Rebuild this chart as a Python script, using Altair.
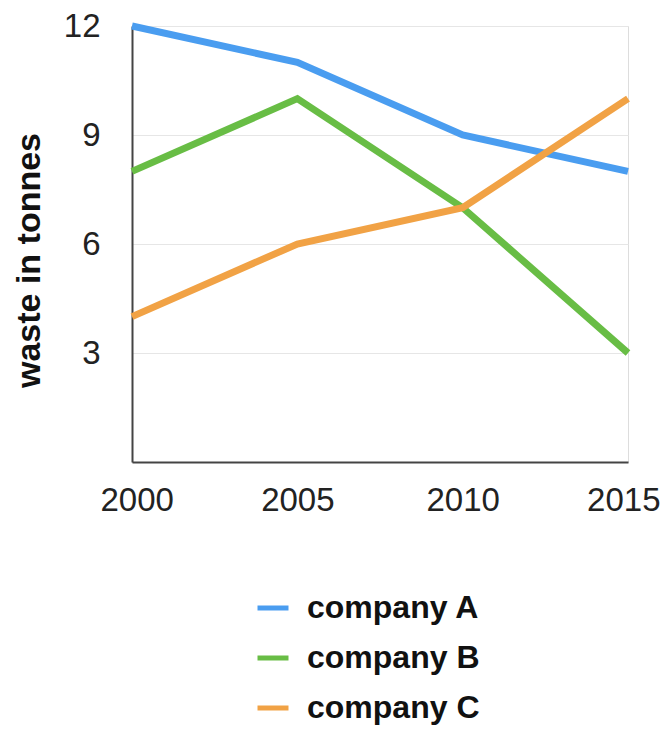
import altair as alt
import pandas as pd

years = [2000, 2005, 2010, 2015]
companies = ["company A", "company B", "company C"]
company_a = [12, 11, 9, 8]
company_b = [8, 10, 7, 3]
company_c = [4, 6, 7, 10]
colors = ["#4a9df0", "#68bd45", "#f1a245"]
y_ticks = [3, 6, 9, 12]

rows = []
for name, vals in zip(companies, [company_a, company_b, company_c]):
    for yr, v in zip(years, vals):
        rows.append({"year": yr, "waste": v, "company": name})
df = pd.DataFrame(rows)

FONT = "Liberation Sans"

chart = (
    alt.Chart(df)
    .mark_line(strokeWidth=7)
    .encode(
        x=alt.X(
            "year:Q",
            scale=alt.Scale(domain=[2000, 2015], nice=False, zero=False),
            axis=alt.Axis(
                values=years,
                format="d",
                title=None,
                grid=False,
                ticks=False,
                labelPadding=22,
                labelFontSize=33,
                labelFont=FONT,
                labelColor="#222222",
                domainColor="#444444",
                domainWidth=2,
                labelFlush=True,
                labelFlushOffset=32,
            ),
        ),
        y=alt.Y(
            "waste:Q",
            scale=alt.Scale(domain=[0, 12], nice=False),
            axis=alt.Axis(
                values=y_ticks,
                title="waste in tonnes",
                titleFont=FONT,
                titleFontSize=34,
                titleFontWeight="bold",
                titleColor="#111111",
                titleX=-103,
                titleY=234,
                titleAngle=-90,
                titleAlign="center",
                titleBaseline="middle",
                grid=True,
                gridColor="#e6e6e6",
                gridWidth=1,
                ticks=False,
                labelPadding=32,
                labelFontSize=33,
                labelFont=FONT,
                labelColor="#222222",
                domainColor="#444444",
                domainWidth=2,
            ),
        ),
        color=alt.Color(
            "company:N",
            scale=alt.Scale(domain=companies, range=colors),
            legend=alt.Legend(
                title=None,
                orient="none",
                legendX=123,
                legendY=564,
                symbolType="stroke",
                symbolSize=961,
                symbolStrokeWidth=5,
                labelFontSize=32,
                labelFont=FONT,
                labelFontWeight="bold",
                labelColor="#111111",
                labelOffset=16,
                labelLimit=400,
                rowPadding=16,
                padding=0,
            ),
        ),
    )
    .properties(
        width=496,
        height=436,
        autosize=alt.AutoSizeParams(type="none"),
        padding={"left": 124, "top": 18, "right": 33, "bottom": 264},
    )
    .configure_view(stroke=None)
    .configure(background="white")
)

chart.save("out.html", embed_options={"renderer": "svg", "actions": False})
